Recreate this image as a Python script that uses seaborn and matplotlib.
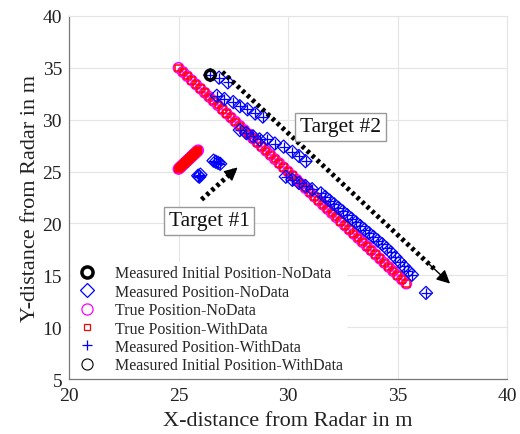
import matplotlib
matplotlib.use("Agg")
import matplotlib.pyplot as plt
from matplotlib.lines import Line2D
import seaborn as sns
import pandas as pd

# ---------------- data ----------------
# Target #2 true trajectory
true2_x = [25.0, 25.2, 25.4, 25.6, 25.8, 26.0, 26.2, 26.4, 26.6, 26.8, 27.0, 27.2, 27.4, 27.6,
           27.8, 28.0, 28.2, 28.4, 28.6, 28.8, 29.0, 29.2, 29.4, 29.6, 29.8, 30.0, 30.2, 30.4,
           30.6, 30.8, 31.0, 31.2, 31.4, 31.6, 31.8, 32.0, 32.2, 32.4, 32.6, 32.8, 33.0, 33.2,
           33.4, 33.6, 33.8, 34.0, 34.2, 34.4, 34.6, 34.8, 35.0, 35.2, 35.4]
true2_y = [35.0, 34.6, 34.2, 33.8, 33.4, 33.0, 32.6, 32.2, 31.8, 31.4, 31.0, 30.6, 30.2, 29.8,
           29.4, 29.0, 28.6, 28.2, 27.8, 27.4, 27.0, 26.6, 26.2, 25.8, 25.4, 25.0, 24.6, 24.2,
           23.8, 23.4, 23.0, 22.6, 22.2, 21.8, 21.4, 21.0, 20.6, 20.2, 19.8, 19.4, 19.0, 18.6,
           18.2, 17.8, 17.4, 17.0, 16.6, 16.2, 15.8, 15.4, 15.0, 14.6, 14.2]
# Target #1 true trajectory
true1_x = [25.0, 25.03, 25.06, 25.09, 25.12, 25.15, 25.18, 25.21, 25.24, 25.27, 25.3, 25.33,
           25.36, 25.39, 25.42, 25.45, 25.48, 25.51, 25.54, 25.57, 25.6, 25.63, 25.66, 25.69,
           25.72, 25.75, 25.78, 25.81, 25.84, 25.87, 25.9]
true1_y = [25.25, 25.31, 25.37, 25.43, 25.49, 25.55, 25.61, 25.67, 25.73, 25.79, 25.85, 25.91,
           25.97, 26.03, 26.09, 26.15, 26.21, 26.27, 26.33, 26.39, 26.45, 26.51, 26.57, 26.63,
           26.69, 26.75, 26.81, 26.87, 26.93, 26.99, 27.05]
# Measured positions (target #2 then target #1)
meas_x = [26.45, 26.85, 27.25,
          26.75, 27.1, 27.5, 27.8, 28.15, 28.5, 28.85,
          27.8, 28.1, 28.4, 28.7,
          29.05, 29.4, 29.8, 30.2, 30.5, 30.8,
          29.9, 30.2, 30.5, 30.8, 31.1,
          31.5, 31.7, 31.9, 32.1, 32.3, 32.5, 32.7, 32.9, 33.1, 33.3, 33.5, 33.7,
          33.9, 34.1, 34.3, 34.5, 34.7, 34.9, 35.1, 35.3, 35.5, 35.66,
          36.3,
          25.9, 25.95, 26.0,
          26.6, 26.7, 26.8, 26.9]
meas_y = [34.3, 34.05, 33.6,
          32.3, 32.0, 31.7, 31.3, 31.0, 30.6, 30.3,
          29.0, 28.7, 28.4, 28.1,
          28.15, 27.7, 27.4, 26.9, 26.5, 26.0,
          24.5, 24.2, 23.9, 23.6, 23.3,
          22.9, 22.55, 22.2, 21.85, 21.5, 21.15, 20.8, 20.45, 20.1, 19.75, 19.4, 19.05,
          18.7, 18.35, 18.0, 17.6, 17.2, 16.75, 16.3, 15.85, 15.4, 15.05,
          13.3,
          24.6, 24.5, 24.7,
          26.05, 25.95, 25.85, 25.75]
# Initial measured position
init_x = [26.45]
init_y = [34.3]

legend_labels = ["Measured Initial Position-NoData", "Measured Position-NoData",
                 "True Position-NoData", "True Position-WithData",
                 "Measured Position-WithData", "Measured Initial Position-WithData"]

# annotation arrows: (start, end)
arrow2 = [(27.0, 34.6), (37.4, 14.2)]
arrow1 = [(26.05, 22.3), (27.7, 25.4)]
text2 = ("Target #2", 32.4, 29.3)
text1 = ("Target #1", 26.39, 20.25)

# ---------------- plot ----------------
sns.set_theme(style="whitegrid")
plt.rcParams['font.family'] = ['Liberation Serif', 'DejaVu Serif']

fig = plt.figure(figsize=(5.2, 4.35), dpi=100)
ax = fig.add_axes([0.1327, 0.1264, 0.8423, 0.8346])

true_df = pd.DataFrame({"x": true2_x + true1_x, "y": true2_y + true1_y})
meas_df = pd.DataFrame({"x": meas_x, "y": meas_y})
init_df = pd.DataFrame({"x": init_x, "y": init_y})

sns.scatterplot(data=true_df, x="x", y="y", ax=ax, marker="o", s=55,
                facecolor="none", edgecolor="#ff00ff", linewidth=1.1, zorder=3)
sns.scatterplot(data=true_df, x="x", y="y", ax=ax, marker="s", s=22,
                facecolor="none", edgecolor="#ff0000", linewidth=1.1, zorder=4)
sns.scatterplot(data=meas_df, x="x", y="y", ax=ax, marker="D", s=45,
                facecolor="none", edgecolor="#0000ff", linewidth=0.9, zorder=5)
sns.scatterplot(data=meas_df, x="x", y="y", ax=ax, marker="+", s=50,
                color="#0000ff", linewidth=0.9, zorder=6)
sns.scatterplot(data=init_df, x="x", y="y", ax=ax, marker="o", s=50,
                facecolor="none", edgecolor="black", linewidth=2.5, zorder=7)
sns.scatterplot(data=init_df, x="x", y="y", ax=ax, marker="o", s=50,
                facecolor="none", edgecolor="black", linewidth=0.8, zorder=7)

# arrows
for (s, e) in (arrow2, arrow1):
    fx = s[0] + 0.93 * (e[0] - s[0])
    fy = s[1] + 0.93 * (e[1] - s[1])
    ax.plot([s[0], fx], [s[1], fy], color="black", lw=3.5, ls=(0, (0.7, 0.7)), zorder=8)
    ax.annotate("", xy=e, xytext=(fx - 0.02 * (e[0] - s[0]), fy - 0.02 * (e[1] - s[1])),
                arrowprops=dict(arrowstyle="-|>", color="black", lw=1.0,
                                mutation_scale=20, shrinkA=0, shrinkB=0), zorder=8)

for t, tx, ty in (text2, text1):
    ax.text(tx, ty, t, fontsize=15.5, ha="center", va="center", color="#111111",
            bbox=dict(boxstyle="square,pad=0.22", fc="white", ec="#999999", lw=1.0), zorder=9)

ax.set_xlim(20, 40)
ax.set_ylim(5, 40)
ax.set_xticks([20, 25, 30, 35, 40])
ax.set_yticks([5, 10, 15, 20, 25, 30, 35, 40])
ax.set_xlabel("X-distance from Radar in m", fontsize=16, color="#222222", labelpad=5)
ax.set_ylabel("Y-distance from Radar in m", fontsize=16, color="#222222", labelpad=2)
ax.tick_params(axis="both", labelsize=14, direction="in", length=4, width=0.8,
               colors="#777777", labelcolor="#222222")
ax.tick_params(axis="x", pad=6)
ax.tick_params(axis="y", pad=5)
ax.grid(True, color="#e4e4e4", lw=0.8)
ax.set_facecolor("white")
for side in ("left", "bottom"):
    ax.spines[side].set_color("#777777")
    ax.spines[side].set_linewidth(0.9)
for side in ("top", "right"):
    ax.spines[side].set_color("#e4e4e4")
    ax.spines[side].set_linewidth(0.8)

handles = [
    Line2D([], [], ls="none", marker="o", ms=8, mfc="none", mec="black", mew=2.5),
    Line2D([], [], ls="none", marker="D", ms=7, mfc="none", mec="#0000ff", mew=0.9),
    Line2D([], [], ls="none", marker="o", ms=8, mfc="none", mec="#ff00ff", mew=0.9),
    Line2D([], [], ls="none", marker="s", ms=4.5, mfc="none", mec="#ff0000", mew=0.9),
    Line2D([], [], ls="none", marker="+", ms=7, color="#0000ff", mew=0.9),
    Line2D([], [], ls="none", marker="o", ms=8, mfc="none", mec="black", mew=0.8),
]
leg = ax.legend(handles, legend_labels, loc="lower left", bbox_to_anchor=(0.0, 0.0),
                fontsize=11.5, frameon=True, framealpha=1.0, facecolor="white",
                edgecolor="white", handletextpad=0.9, labelspacing=0.15,
                borderpad=0.2, handlelength=1.6, borderaxespad=0.15)
leg.set_zorder(10)

fig.savefig("out.png", dpi=100)
